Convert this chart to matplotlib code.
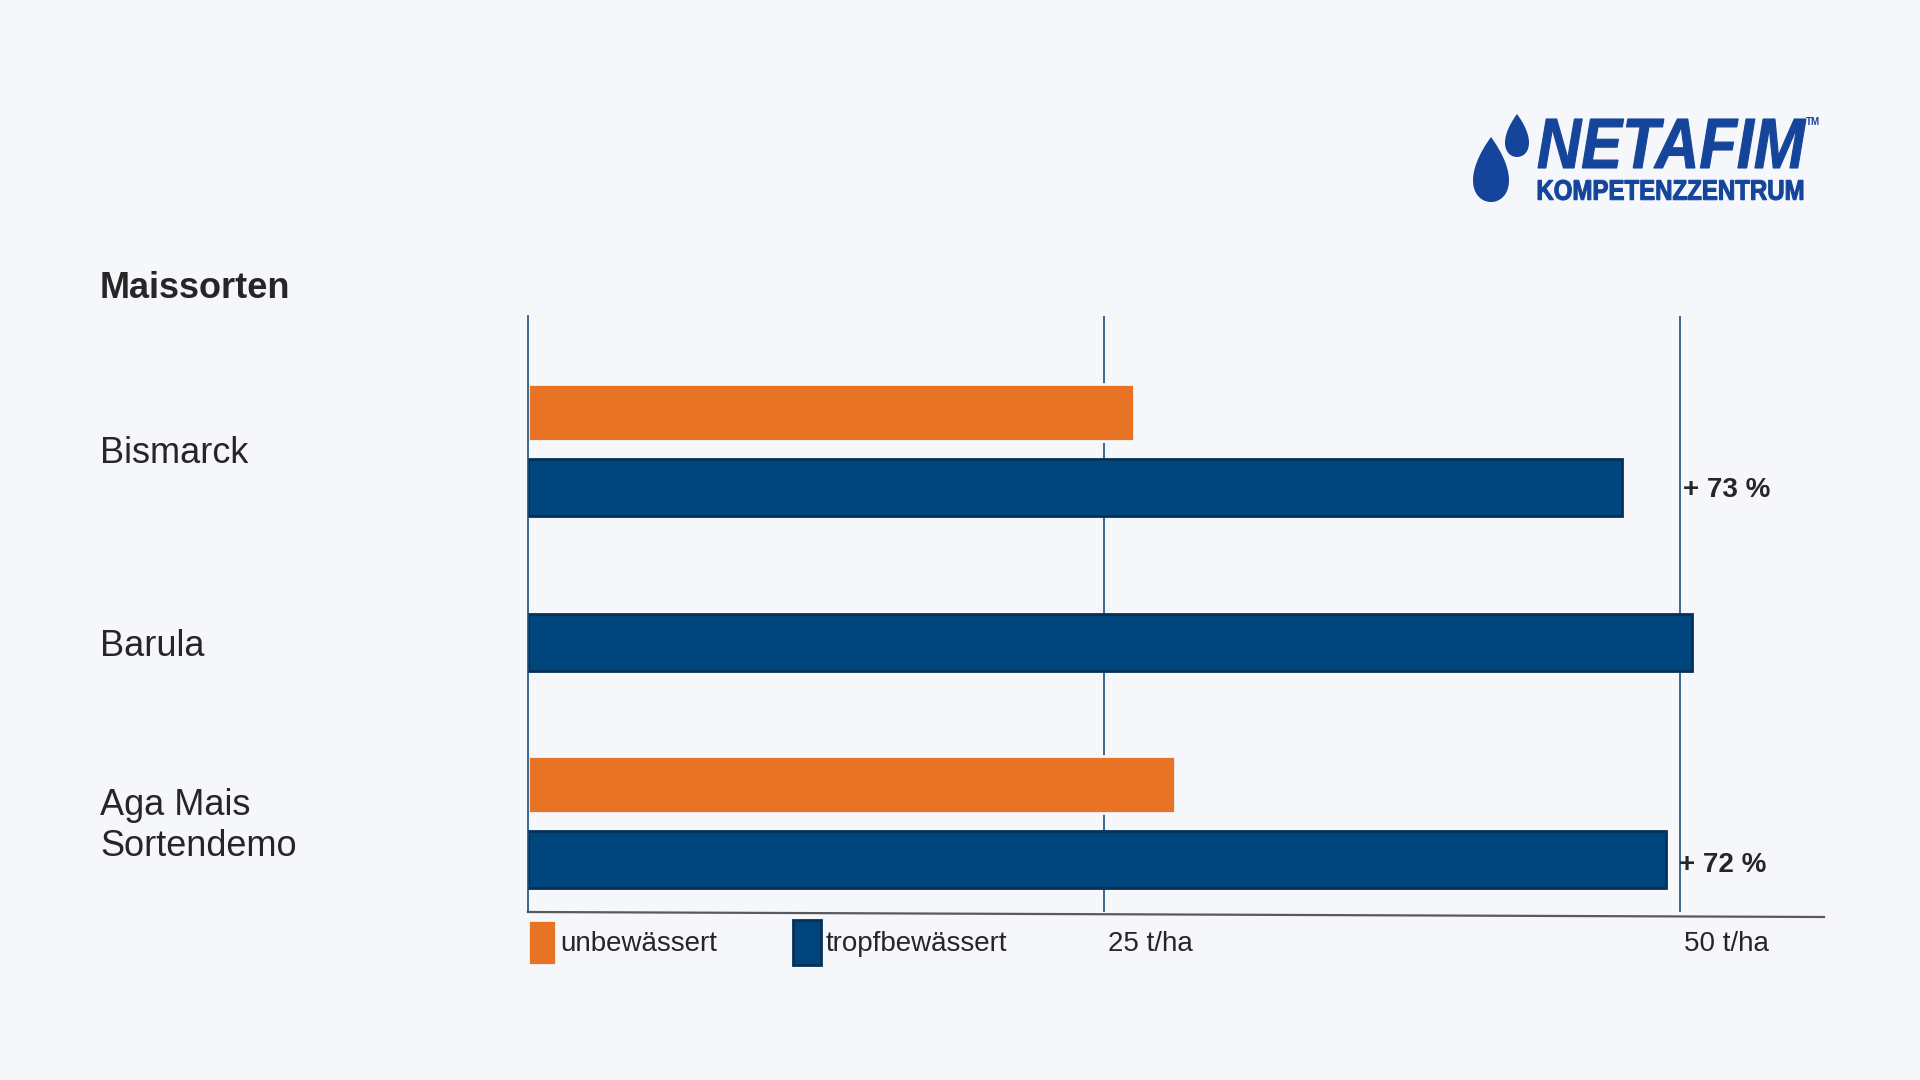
import numpy as np
import matplotlib
matplotlib.use("Agg")
import matplotlib.pyplot as plt
from matplotlib.textpath import TextPath
from matplotlib.patches import PathPatch, Polygon
from matplotlib.font_manager import FontProperties
from matplotlib.transforms import Affine2D, ScaledTranslation, blended_transform_factory

plt.rcParams['font.family'] = ['Liberation Sans', 'DejaVu Sans']

# data (t/ha)
sorten = ["Bismarck", "Barula", "Aga Mais\nSortendemo"]
unbewaessert = [26.3, None, 28.1]
tropfbewaessert = [47.5, 50.5, 49.4]
zuwachs = ["+ 73 %", None, "+ 72 %"]
tick_vals = [25, 50]
tick_labels = ["25 t/ha", "50 t/ha"]

bg = '#f5f7fb'
orange = '#e97324'
blue = '#00457c'
blue_edge = '#06305a'
grid_blue = '#1f4e7a'
text_col = '#262626'
logo_blue = '#15459b'

W, H = 1920, 1080
fig = plt.figure(figsize=(19.2, 10.8), dpi=100, facecolor=bg)
ax = fig.add_axes([528 / W, 1 - 912 / H, (1824 - 528) / W, (912 - 316) / H])
ax.set_facecolor(bg)

# row positions (Barula row sits a bit lower than the even spacing)
y_pos = np.array([0, 1.035, 2])
off = 0.2016
bh = 0.305
for i, y in enumerate(y_pos):
    if unbewaessert[i] is None:
        ax.barh(y, tropfbewaessert[i], height=bh, color=blue, edgecolor=blue_edge, lw=2)
    else:
        ax.barh(y - off, unbewaessert[i], height=bh, color=orange, edgecolor=bg, lw=2,
                label="unbewässert" if i == 0 else None)
        ax.barh(y + off, tropfbewaessert[i], height=bh, color=blue, edgecolor=blue_edge, lw=2,
                label="tropfbewässert" if i == 0 else None)
    if zuwachs[i]:
        ax.text(50.15 if i == 0 else 49.95, y + off + (0.015 if i == 0 else 0.03), zuwachs[i],
                fontsize=20, fontweight='bold', color=text_col, va='center', ha='left')

ax.set_xlim(0, 56.25)
ax.set_ylim(2.484, -0.7204)
ax.set_yticks([])
ax.set_xticks(tick_vals, labels=[])
ax.tick_params(axis='x', length=0)
# axis unit labels, left aligned just right of the grid lines
ttr = blended_transform_factory(ax.transData, fig.transFigure) + ScaledTranslation(4 / 100, 0, fig.dpi_scale_trans)
for v, lab in zip(tick_vals, tick_labels):
    ax.text(v, 1 - 944 / H, lab, transform=ttr, fontsize=20, color=text_col, ha='left', va='center')
ax.xaxis.grid(True, color=grid_blue, lw=1.2)
ax.set_axisbelow(True)
for s in ['top', 'right', 'bottom']:
    ax.spines[s].set_visible(False)
ax.spines['left'].set_color(grid_blue)
ax.spines['left'].set_linewidth(1.2)
# slightly sloped base line
ax.plot([0, 1], [0, -5 / 596], transform=ax.transAxes, color='#5a5a5a', lw=1.6, clip_on=False)

# category labels on the far left
tr = blended_transform_factory(fig.transFigure, ax.transData) + ScaledTranslation(0, -4 / 100, fig.dpi_scale_trans)
for y, name in zip(y_pos, sorten):
    fig.text(100 / W, y, name, transform=tr, fontsize=26, color=text_col, va='center', ha='left',
             linespacing=1.25)

fig.text(100 / W, 1 - 289 / H, "Maissorten", fontsize=26, fontweight='bold', color=text_col,
         va='center', ha='left')

leg = ax.legend(loc='upper left', bbox_to_anchor=(528 / W, 1 - 920 / H), bbox_transform=fig.transFigure,
                ncol=2, frameon=False, fontsize=20, handlelength=1.0, handleheight=2.1,
                handletextpad=0.17, columnspacing=2.72, borderpad=0, borderaxespad=0)
for t in leg.get_texts():
    t.set_color(text_col)


# logo
def add_textpath(s, box, weight, style):
    prop = FontProperties(family='Liberation Sans', weight=weight, style=style)
    tp = TextPath((0, 0), s, size=100, prop=prop)
    bb = tp.get_extents()
    x0, y0, x1, y1 = box
    trans = Affine2D().translate(-bb.x0, -bb.y0).scale((x1 - x0) / bb.width, (y1 - y0) / bb.height) \
        .translate(x0, H - y1)
    fig.add_artist(PathPatch(tp, transform=trans, color=logo_blue, lw=0.8, ec=logo_blue))


add_textpath("NETAFIM", (1538, 119, 1806, 168), 'bold', 'italic')
add_textpath("KOMPETENZZENTRUM", (1538, 180, 1803, 200), 'bold', 'normal')
fig.text(1806 / W, 1 - 122 / H, "TM", fontsize=7, fontweight='bold', color=logo_blue, va='center', ha='left')


def drop(cx, top, bottom, half_w):
    t = np.linspace(0, 2 * np.pi, 200)
    xs = np.sin(t) * np.sin(t / 2)
    ys = np.cos(t)
    xs = cx + xs / 0.77 * half_w
    ys = H - (top + (1 - ys) / 2 * (bottom - top))
    fig.add_artist(Polygon(np.column_stack([xs, ys]), closed=True, transform=Affine2D(),
                           color=logo_blue, lw=0))


drop(1491, 137, 202, 18)
drop(1517, 114, 157, 12)

fig.savefig("out.png", dpi=100, facecolor=bg)
